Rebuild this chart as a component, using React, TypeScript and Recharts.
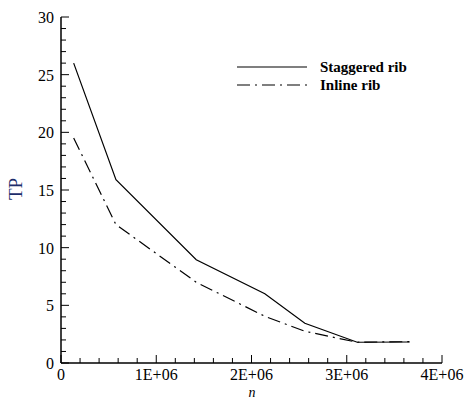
import React from 'react';
import { LineChart, Line, XAxis, YAxis, Legend, Label } from 'recharts';

// Data
const nValues = [1.33e5, 5.77e5, 1.42e6, 2.14e6, 2.56e6, 3.11e6, 3.66e6];
const staggeredTP = [26, 15.9, 8.95, 6.0, 3.45, 1.8, 1.82];
const inlineTP = [19.5, 12, 7, 4.05, 2.75, 1.8, 1.85];

const seriesNames = ['Staggered rib', 'Inline rib'];

const xMajorValues = [0, 1e6, 2e6, 3e6, 4e6];
const xTickLabels = ['0', '1E+06', '2E+06', '3E+06', '4E+06'];
const xMinorStep = 2e5;
const yMajorValues = [0, 5, 10, 15, 20, 25, 30];
const yTickLabels = ['0', '5', '10', '15', '20', '25', '30'];
const yMinorStep = 1;

const data = nValues.map((n, i) => ({ n, staggered: staggeredTP[i], inline: inlineTP[i] }));

const xTicks: number[] = [];
for (let i = 0; i <= Math.round(4e6 / xMinorStep); i++) xTicks.push(Math.round(i * xMinorStep));
const yTicks: number[] = [];
for (let i = 0; i <= 30 / yMinorStep; i++) yTicks.push(i * yMinorStep);

const FONT = 'Liberation Serif, serif';
const INLINE_DASH = '13 5 2 5';

const XTick = (props: any) => {
  const { x, y, payload } = props;
  const idx = xMajorValues.indexOf(payload.value);
  const major = idx >= 0;
  return (
    <g>
      <line x1={x} x2={x} y1={y} y2={y - (major ? 8 : 5)} stroke="#000" strokeWidth={1} />
      {major && (
        <text x={x} y={y + 17} textAnchor="middle" style={{ fontFamily: FONT, fontSize: 16 }} fill="#000">
          {xTickLabels[idx]}
        </text>
      )}
    </g>
  );
};

const YTick = (props: any) => {
  const { x, y, payload } = props;
  const idx = yMajorValues.indexOf(payload.value);
  const major = idx >= 0;
  return (
    <g>
      <line x1={x} x2={x + (major ? 8 : 5)} y1={y} y2={y} stroke="#000" strokeWidth={1} />
      {major && (
        <text x={x - 7} y={y + 6} textAnchor="end" style={{ fontFamily: FONT, fontSize: 16 }} fill="#000">
          {yTickLabels[idx]}
        </text>
      )}
    </g>
  );
};

const renderLegend = () => (
  <svg width={220} height={40} style={{ display: 'block' }}>
    <line x1={7} x2={77} y1={12} y2={12} stroke="#000" strokeWidth={1.2} />
    <text x={90} y={17} style={{ fontFamily: FONT, fontWeight: 'bold', fontSize: 15 }} fill="#000">
      {seriesNames[0]}
    </text>
    <line x1={7} x2={77} y1={30} y2={30} stroke="#000" strokeWidth={1.2} strokeDasharray={INLINE_DASH} />
    <text x={90} y={35} style={{ fontFamily: FONT, fontWeight: 'bold', fontSize: 15 }} fill="#000">
      {seriesNames[1]}
    </text>
  </svg>
);

export default function App() {
  return (
    <div style={{ position: 'absolute', left: 0, top: 0, background: '#fff' }}>
      <LineChart width={467} height={400} data={data} margin={{ top: 17, right: 25, left: 0, bottom: 0 }}>
        <XAxis
          dataKey="n"
          type="number"
          domain={[0, 4e6]}
          ticks={xTicks}
          interval={0}
          height={37}
          tickSize={0}
          tickMargin={0}
          tickLine={false}
          tick={<XTick />}
          axisLine={{ stroke: '#000', strokeWidth: 1.5 }}
          allowDataOverflow
        >
          <Label
            content={() => (
              <text x={252} y={397} textAnchor="middle" style={{ fontFamily: FONT, fontStyle: 'italic', fontSize: 14 }} fill="#000">
                n
              </text>
            )}
          />
        </XAxis>
        <XAxis
          xAxisId="top"
          orientation="top"
          dataKey="n"
          type="number"
          domain={[0, 4e6]}
          height={0}
          tick={false}
          tickLine={false}
          axisLine={{ stroke: '#000', strokeWidth: 1.5 }}
        />
        <YAxis
          type="number"
          domain={[0, 30]}
          ticks={yTicks}
          interval={0}
          width={61}
          tickSize={0}
          tickMargin={0}
          tickLine={false}
          tick={<YTick />}
          axisLine={{ stroke: '#000', strokeWidth: 1.5 }}
          allowDataOverflow
        >
          <Label
            content={() => (
              <text
                x={22}
                y={189}
                textAnchor="middle"
                style={{ fontFamily: FONT, fontSize: 19 }}
                fill="#1c2d6b"
                transform="rotate(-90, 22, 189)"
              >
                TP
              </text>
            )}
          />
        </YAxis>
        <YAxis
          yAxisId="right"
          orientation="right"
          type="number"
          domain={[0, 30]}
          width={0}
          tick={false}
          tickLine={false}
          axisLine={{ stroke: '#000', strokeWidth: 1.5 }}
        />
        <Legend
          layout="horizontal"
          verticalAlign="middle"
          align="center"
          content={renderLegend}
          wrapperStyle={{ position: 'absolute', left: 230, top: 55, width: 220, height: 40 }}
        />
        <Line
          type="linear"
          dataKey="staggered"
          name={seriesNames[0]}
          stroke="#000"
          strokeWidth={1.2}
          dot={false}
          isAnimationActive={false}
        />
        <Line
          type="linear"
          dataKey="inline"
          name={seriesNames[1]}
          stroke="#000"
          strokeWidth={1.2}
          strokeDasharray={INLINE_DASH}
          dot={false}
          isAnimationActive={false}
        />
      </LineChart>
    </div>
  );
}
